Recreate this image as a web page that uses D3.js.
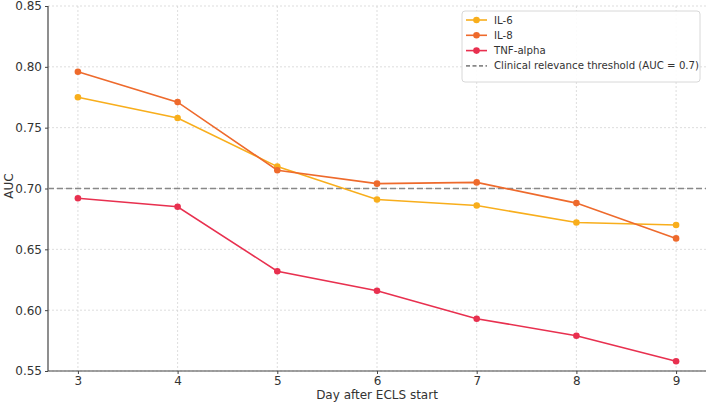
<!DOCTYPE html>
<html><head><meta charset="utf-8">
<script src="https://cdn.jsdelivr.net/npm/d3@7"></script>
<style>body{margin:0;background:#fff}svg{display:block;font-family:"DejaVu Sans",sans-serif}</style>
</head><body>
<svg id="c" width="709" height="404"></svg>
<script>
const days = [3, 4, 5, 6, 7, 8, 9];
const il6 = [0.775, 0.758, 0.718, 0.691, 0.686, 0.672, 0.670];
const il8 = [0.796, 0.771, 0.715, 0.704, 0.705, 0.688, 0.659];
const tnf = [0.692, 0.685, 0.632, 0.616, 0.593, 0.579, 0.558];
const yTicks = [0.55, 0.60, 0.65, 0.70, 0.75, 0.80, 0.85];
const threshold = 0.7;
const seriesNames = ["IL-6", "IL-8", "TNF-alpha"];
const seriesColors = ["#f8ae1c", "#ee6a2c", "#e8304f"];
const thresholdLabel = "Clinical relevance threshold (AUC = 0.7)";

const svg = d3.select("#c");
const L = 48, R = 706, T = 6, B = 371;
const x = d3.scaleLinear().domain([2.7, 9.3]).range([L, R]);
const y = d3.scaleLinear().domain([0.55, 0.85]).range([B, T]);

// grid
const g = svg.append("g");
g.selectAll(".gx").data(days).enter().append("line")
  .attr("x1", d => x(d)).attr("x2", d => x(d)).attr("y1", T).attr("y2", B)
  .attr("stroke", "#d4d4d4").attr("stroke-width", 0.8).attr("stroke-dasharray", "2,2");
g.selectAll(".gy").data(yTicks).enter().append("line")
  .attr("x1", L).attr("x2", R).attr("y1", d => y(d)).attr("y2", d => y(d))
  .attr("stroke", "#d4d4d4").attr("stroke-width", 0.8).attr("stroke-dasharray", "2,2");

// axes
const xa = svg.append("g").attr("transform", `translate(0,${B})`)
  .call(d3.axisBottom(x).tickValues(days).tickFormat(d3.format("d")).tickSize(3).tickPadding(2).tickSizeOuter(0));
const ya = svg.append("g").attr("transform", `translate(${L},0)`)
  .call(d3.axisLeft(y).tickValues(yTicks).tickFormat(d3.format(".2f")).tickSize(3).tickSizeOuter(0));
[xa, ya].forEach(a => {
  a.select(".domain").attr("stroke", "#444").attr("stroke-width", 1.2);
  a.selectAll(".tick line").attr("stroke", "#444");
  a.selectAll("text").attr("font-size", 12).attr("fill", "#333").attr("font-family", "DejaVu Sans");
});
xa.select(".domain").attr("d", `M${L},0H${R}`);
ya.select(".domain").attr("d", `M0,${B}V${T}`);

svg.append("text").attr("x", (L + R) / 2).attr("y", 399).attr("text-anchor", "middle")
  .attr("font-size", 12).attr("fill", "#333").text("Day after ECLS start");
svg.append("text").attr("transform", "translate(13,186) rotate(-90)").attr("text-anchor", "middle")
  .attr("font-size", 12).attr("fill", "#333").text("AUC");

// threshold
svg.append("line").attr("x1", L).attr("x2", R).attr("y1", y(threshold)).attr("y2", y(threshold))
  .attr("stroke", "#888").attr("stroke-width", 1.6).attr("stroke-dasharray", "6,3");

// series
const data = [il6, il8, tnf];
const line = d3.line().x((d, i) => x(days[i])).y(d => y(d));
data.forEach((vals, k) => {
  svg.append("path").datum(vals).attr("d", line).attr("fill", "none")
    .attr("stroke", seriesColors[k]).attr("stroke-width", 1.6);
  svg.selectAll(".p" + k).data(vals).enter().append("circle")
    .attr("cx", (d, i) => x(days[i])).attr("cy", d => y(d)).attr("r", 3.3)
    .attr("fill", seriesColors[k]);
});

// legend
const lg = svg.append("g");
lg.append("rect").attr("x", 462).attr("y", 11).attr("width", 238).attr("height", 71).attr("rx", 3)
  .attr("fill", "#fff").attr("fill-opacity", 0.9).attr("stroke", "#d8d8d8");
seriesNames.forEach((n, k) => {
  const yy = 20 + k * 15.3;
  lg.append("line").attr("x1", 466).attr("x2", 487).attr("y1", yy).attr("y2", yy)
    .attr("stroke", seriesColors[k]).attr("stroke-width", 1.6);
  lg.append("circle").attr("cx", 476.5).attr("cy", yy).attr("r", 3.3).attr("fill", seriesColors[k]);
  lg.append("text").attr("x", 494).attr("y", yy).attr("dy", "0.35em").attr("font-size", 10.2)
    .attr("fill", "#333").text(n);
});
const ty = 20 + 3 * 15.3;
lg.append("line").attr("x1", 466).attr("x2", 487).attr("y1", ty).attr("y2", ty)
  .attr("stroke", "#888").attr("stroke-width", 1.6).attr("stroke-dasharray", "4,2.5");
lg.append("text").attr("x", 494).attr("y", ty).attr("dy", "0.35em").attr("font-size", 10.2)
  .attr("fill", "#333").text(thresholdLabel);
</script>
</body></html>
